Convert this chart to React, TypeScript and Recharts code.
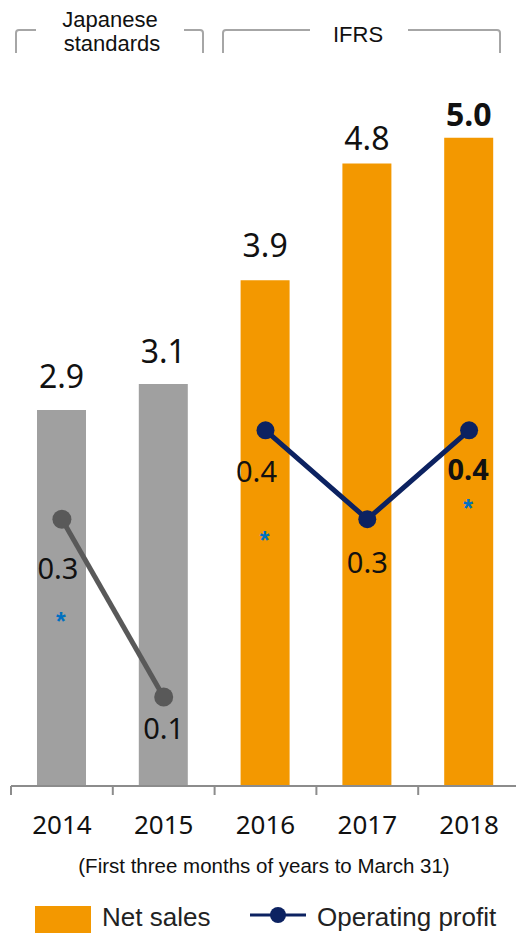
import { ComposedChart, Bar, Line, XAxis, YAxis, Cell, LabelList, Legend } from 'recharts'

const years = ['2014', '2015', '2016', '2017', '2018']
const netSales = [2.9, 3.1, 3.9, 4.8, 5.0]
const profitJp = [0.3, 0.1, null, null, null]
const profitIfrs = [null, null, 0.4, 0.3, 0.4]
const standard = ['jp', 'jp', 'ifrs', 'ifrs', 'ifrs']
const hasNote = [true, false, true, false, true]

const data = years.map((year, i) => ({
  year,
  netSales: netSales[i],
  profitJp: profitJp[i],
  profitIfrs: profitIfrs[i],
  standard: standard[i],
  note: hasNote[i],
}))

const W = 520
const H = 933
const MARGIN = { top: 8, right: 0, bottom: 47, left: 11 }
const BAND = (W - MARGIN.left - MARGIN.right) / years.length

const ORANGE = '#f39800'
const GRAY_BAR = '#a0a0a0'
const GRAY_LINE = '#595959'
const NAVY = '#0c2261'
const AXIS = '#8c8c8c'
const NUM_FONT = '"Noto Sans", "Open Sans", sans-serif'
const ARIAL = '"Liberation Sans", Arial, sans-serif'

// hand-tuned label placement, index-aligned with years
const BAR_LABEL_GAP = [22, 21, 23, 14, 12]
const PROFIT_DX = [-4, 0, -9, 0, -1]
const PROFIT_DY = [60, 42, 52, 54, 50]
const NOTE_DY = [97, 0, 105, 0, 73]

function BarValue({ x, y, width, value, index }: any) {
  return (
    <text x={x + width / 2} y={y - BAR_LABEL_GAP[index]} textAnchor="middle"
      fontFamily={NUM_FONT} fontSize={32} fill="#111"
      fontWeight={index === years.length - 1 ? 700 : 400}>
      {Number(value).toFixed(1)}
    </text>
  )
}

function ProfitValue({ x, y, value, index }: any) {
  if (value == null) return null
  return (
    <g>
      <text x={x + PROFIT_DX[index]} y={y + PROFIT_DY[index]} textAnchor="middle"
        fontFamily={NUM_FONT} fontSize={29} fill="#111"
        fontWeight={index === years.length - 1 ? 700 : 400}>
        {Number(value).toFixed(1)}
      </text>
      {hasNote[index] && (
        <text x={x - 1} y={y + NOTE_DY[index] + 14} textAnchor="middle"
          fontFamily={ARIAL} fontSize={25} fontWeight={700} fill="#0070c0">*</text>
      )}
    </g>
  )
}

function YearTick({ x, y, payload }: any) {
  return (
    <g>
      <line x1={x - BAND / 2} x2={x - BAND / 2} y1={y} y2={y + 9} stroke={AXIS} strokeWidth={2} />
      <text x={x} y={y + 48} textAnchor="middle" fontFamily={NUM_FONT} fontSize={26} fill="#111">
        {payload.value}
      </text>
    </g>
  )
}

function LegendBox() {
  return (
    <svg width={516} height={38} style={{ display: 'block' }}>
      <rect x={35} y={11} width={56} height={27} fill={ORANGE} />
      <text x={102} y={31} fontFamily={ARIAL} fontSize={26} fill="#222">Net sales</text>
      <line x1={250} x2={306} y1={20} y2={20} stroke={NAVY} strokeWidth={3} />
      <circle cx={278} cy={20} r={8} fill={NAVY} />
      <text x={317} y={31} fontFamily={ARIAL} fontSize={26} fill="#222">Operating profit</text>
    </svg>
  )
}

function Brackets() {
  const g = '#a6a6a6'
  return (
    <svg width={516} height={933} style={{ position: 'absolute', left: 0, top: 0, pointerEvents: 'none' }}>
      <g fill="none" stroke={g} strokeWidth={2}>
        <path d="M36 30 H19 Q16 30 16 33 V53" />
        <path d="M184 30 H200 Q203 30 203 33 V53" />
        <path d="M310 30 H226 Q223 30 223 33 V53" />
        <path d="M408 30 H497 Q500 30 500 33 V53" />
      </g>
      <g fontFamily={ARIAL} fontSize={22} fill="#111" textAnchor="middle">
        <text x={110} y={27}>Japanese</text>
        <text x={112} y={51}>standards</text>
        <text x={358} y={42}>IFRS</text>
        <text x={264} y={873} fontSize={20.5}>(First three months of years to March 31)</text>
      </g>
    </svg>
  )
}

export default function App() {
  return (
    <div style={{ position: 'absolute', left: 0, top: 0, width: 516, height: 933, overflow: 'hidden', background: '#fff' }}>
      <ComposedChart width={W} height={H} data={data} margin={MARGIN}>
        <XAxis dataKey="year" height={100} tickLine={false} tickSize={0} tickMargin={0}
          axisLine={{ stroke: AXIS, strokeWidth: 2 }} tick={<YearTick />} interval={0} />
        <YAxis yAxisId="sales" hide domain={[0, 6]} />
        <YAxis yAxisId="profit" hide domain={[0, 0.875]} orientation="right" />
        <Legend layout="horizontal" verticalAlign="middle" align="center"
          wrapperStyle={{ position: 'absolute', left: 0, top: 895, width: 516, height: 38 }}
          content={() => <LegendBox />} />
        <Bar yAxisId="sales" dataKey="netSales" name="Net sales" barSize={49} isAnimationActive={false}>
          {data.map(d => <Cell key={d.year} fill={d.standard === 'jp' ? GRAY_BAR : ORANGE} />)}
          <LabelList dataKey="netSales" content={<BarValue />} />
        </Bar>
        <Line yAxisId="profit" dataKey="profitJp" name="Operating profit (JP GAAP)" stroke={GRAY_LINE}
          strokeWidth={5} dot={{ r: 9.5, fill: GRAY_LINE, stroke: 'none' }} activeDot={false}
          isAnimationActive={false} connectNulls={false} legendType="none">
          <LabelList dataKey="profitJp" content={<ProfitValue />} />
        </Line>
        <Line yAxisId="profit" dataKey="profitIfrs" name="Operating profit" stroke={NAVY}
          strokeWidth={5} dot={{ r: 9, fill: NAVY, stroke: 'none' }} activeDot={false}
          isAnimationActive={false} connectNulls={false}>
          <LabelList dataKey="profitIfrs" content={<ProfitValue />} />
        </Line>
      </ComposedChart>
      <Brackets />
    </div>
  )
}
